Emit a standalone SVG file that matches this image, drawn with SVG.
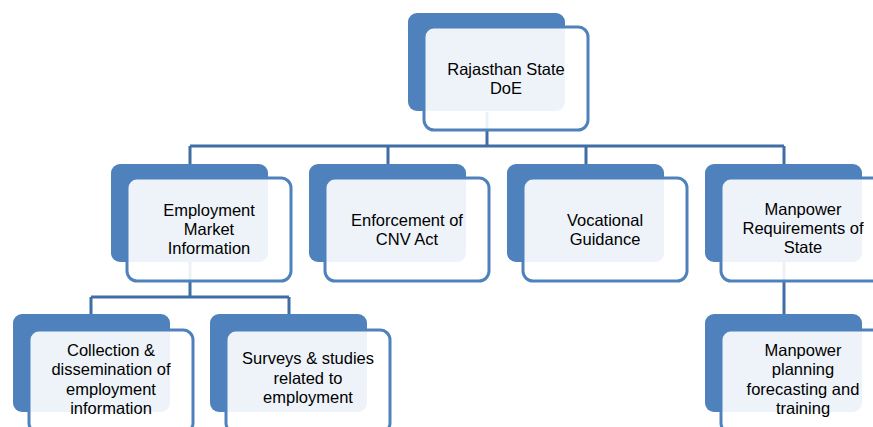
<svg xmlns="http://www.w3.org/2000/svg" width="873" height="427" viewBox="0 0 873 427">
<style>
.back{fill:#4f81bd}
.front{fill:#ffffff;fill-opacity:0.9;stroke:#4f81bd;stroke-width:3}
.conn{stroke:#3f6ea6;stroke-width:3;fill:none}
.lbl{font-family:"Liberation Sans",Arial,sans-serif;font-size:16.5px;fill:#000;text-anchor:middle}
</style>
<rect width="873" height="427" fill="#ffffff"/>
<g id="connectors" class="conn">
<path d="M487,112V146M190,146H784M190,146V164M388,146V164M586,146V164M784,146V164"/>
<path d="M190,262V297M91,297H289M91,297V314M289,297V314"/>
<path d="M784,262V314"/>
</g>
<g id="node-doe">
<rect class="back" x="408" y="13" width="157" height="98" rx="9"/>
<rect class="front" x="424" y="27" width="164" height="103" rx="10"/>
<text class="lbl" x="506"><tspan x="506" y="75">Rajasthan State</tspan><tspan x="506" y="94">DoE</tspan></text>
</g>
<g id="node-emi">
<rect class="back" x="111" y="164" width="157" height="98" rx="9"/>
<rect class="front" x="127" y="178" width="164" height="103" rx="10"/>
<text class="lbl"><tspan x="209" y="216">Employment</tspan><tspan x="209" y="235">Market</tspan><tspan x="209" y="254">Information</tspan></text>
</g>
<g id="node-cnv">
<rect class="back" x="309" y="164" width="157" height="98" rx="9"/>
<rect class="front" x="325" y="178" width="164" height="103" rx="10"/>
<text class="lbl"><tspan x="407" y="226">Enforcement of</tspan><tspan x="407" y="245">CNV Act</tspan></text>
</g>
<g id="node-voc">
<rect class="back" x="507" y="164" width="157" height="98" rx="9"/>
<rect class="front" x="523" y="178" width="164" height="103" rx="10"/>
<text class="lbl"><tspan x="605" y="226">Vocational</tspan><tspan x="605" y="245">Guidance</tspan></text>
</g>
<g id="node-mrs">
<rect class="back" x="705" y="164" width="157" height="98" rx="9"/>
<rect class="front" x="721" y="178" width="164" height="103" rx="10"/>
<text class="lbl"><tspan x="803" y="215">Manpower</tspan><tspan x="803" y="234">Requirements of</tspan><tspan x="803" y="253">State</tspan></text>
</g>
<g id="node-col">
<rect class="back" x="13" y="314" width="157" height="98" rx="9"/>
<rect class="front" x="29" y="330" width="164" height="103" rx="10"/>
<text class="lbl"><tspan x="111" y="355.5">Collection &amp;</tspan><tspan x="111" y="375">dissemination of</tspan><tspan x="111" y="394.5">employment</tspan><tspan x="111" y="414">information</tspan></text>
</g>
<g id="node-sur">
<rect class="back" x="210" y="314" width="157" height="98" rx="9"/>
<rect class="front" x="226" y="330" width="164" height="103" rx="10"/>
<text class="lbl"><tspan x="308" y="364">Surveys &amp; studies</tspan><tspan x="308" y="384">related to</tspan><tspan x="308" y="403">employment</tspan></text>
</g>
<g id="node-mpf">
<rect class="back" x="705" y="314" width="157" height="98" rx="9"/>
<rect class="front" x="721" y="330" width="164" height="103" rx="10"/>
<text class="lbl"><tspan x="803" y="355.5">Manpower</tspan><tspan x="803" y="375">planning</tspan><tspan x="803" y="394.5">forecasting and</tspan><tspan x="803" y="414">training</tspan></text>
</g>
</svg>
